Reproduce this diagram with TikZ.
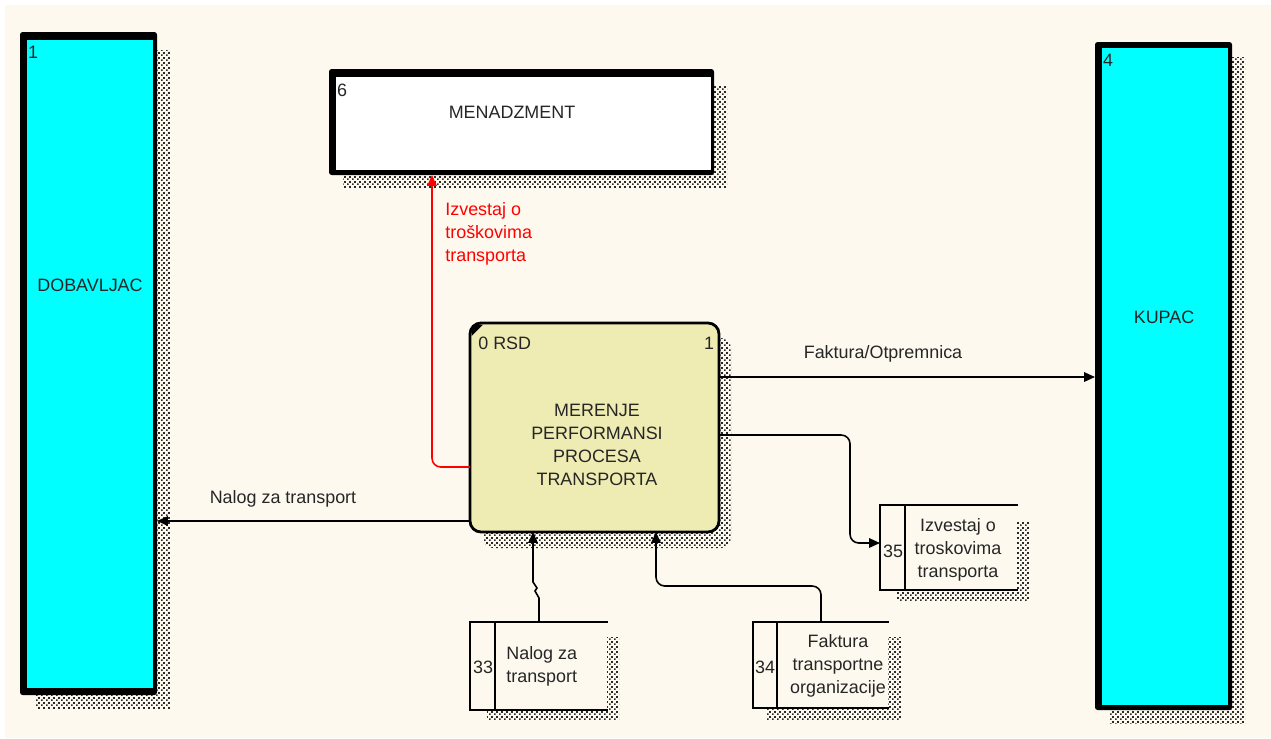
\documentclass[tikz,border=0pt]{standalone}
\usepackage{fontspec}
\setmainfont{Liberation Sans}
\usetikzlibrary{arrows.meta,patterns,fit}

\definecolor{paper}{RGB}{254,249,239}
\definecolor{entcyan}{RGB}{0,255,255}
\definecolor{procfill}{RGB}{238,236,178}
\definecolor{shadowgray}{RGB}{40,40,40}
\definecolor{flowred}{RGB}{255,0,0}

% fine checkerboard of dots used for drop shadows
\pgfdeclarepatternformonly{shadowdots}{\pgfqpoint{0pt}{0pt}}{\pgfqpoint{2.6pt}{2.6pt}}{\pgfqpoint{2.6pt}{2.6pt}}{%
  \pgfpathrectangle{\pgfqpoint{0pt}{0pt}}{\pgfqpoint{1.05pt}{1.05pt}}%
  \pgfpathrectangle{\pgfqpoint{1.3pt}{1.3pt}}{\pgfqpoint{1.05pt}{1.05pt}}%
  \pgfusepath{fill}}

\begin{document}
\begin{tikzpicture}[x=0.02cm, y=-0.02cm,
  font=\fontsize{10.2}{13}\selectfont,
  box/.style={inner sep=0pt, outer sep=0pt},
  txt/.style={inner sep=0pt, text=black!85},
  shade/.style={pattern=shadowdots, pattern color=shadowgray},
  flow/.style={line width=0.9pt, -{Triangle[length=6.2pt,width=5.4pt]}},
  storeline/.style={line width=1.4pt, line cap=rect}]

% canvas
\useasboundingbox (0,0) rectangle (1271,738);
\fill[white] (0,0) rectangle (1271,738);
\fill[paper] (5,5) rectangle (1271,738);

% drop shadows
\fill[shade] (35,50) rectangle (170,708);
\fill[shade] (1110,57) rectangle (1245,723);
\fill[shade] (343,86) rectangle (727,187);
\fill[shade, rounded corners=0.2cm] (483,338) rectangle (731,548);
\fill[shade] (897,522) rectangle (1029,600);
\fill[shade] (487,637) rectangle (619,719);
\fill[shade] (767,637) rectangle (901,719);

% external entity: DOBAVLJAC
\node[box, fit={(20,32) (157,695)}] (dob) {};
\fill[black, rounded corners=1.5pt] (dob.north west) rectangle (dob.south east);
\fill[entcyan] (27,40) rectangle (153,688);
\node[txt] (dobnum) at (33,52) {1};
\node[txt] (dobtxt) at (90,285) {DOBAVLJAC};

% external entity: KUPAC
\node[box, fit={(1095,42) (1232,710)}] (kup) {};
\fill[black, rounded corners=1.5pt] (kup.north west) rectangle (kup.south east);
\fill[entcyan] (1102,48) rectangle (1228,705);
\node[txt] (kupnum) at (1108,60) {4};
\node[txt] (kuptxt) at (1164,317) {KUPAC};

% external entity: MENADZMENT
\node[box, fit={(329,69) (714,175)}] (men) {};
\fill[black, rounded corners=1.5pt] (men.north west) rectangle (men.south east);
\fill[white] (336,77) rectangle (711,170);
\node[txt] (mennum) at (342,90) {6};
\node[txt] (mentxt) at (512,112) {MENADZMENT};

% process
\node[box, fit={(470,323) (719,532)}, draw=black, line width=1.6pt,
      fill=procfill, rounded corners=0.22cm] (proc) {};
\fill[black] (471.5,336) -- (471.5,330) -- (476,325) -- (483,324.5) -- cycle;
\node[txt, anchor=west] (procid) at (478,343) {0 RSD};
\node[txt] (procnum) at (709,343) {1};
\node[txt, align=center] (proctxt) at (597,445) {MERENJE\\PERFORMANSI\\PROCESA\\TRANSPORTA};

% data store 35
\node[box, fit={(880,505) (1017,590)}] (st35) {};
\fill[paper] (st35.north west) rectangle (st35.south east);
\draw[storeline] (st35.north east) -- (st35.north west) -- (st35.south west) -- (st35.south east);
\draw[storeline] (905,505) -- (905,590);
\node[txt] (st35num) at (893,551) {35};
\node[txt, align=center] (st35txt) at (958,550) {Izvestaj o\\troskovima\\transporta};

% data store 33
\node[box, fit={(470,622) (607,710)}] (st33) {};
\fill[paper] (st33.north west) rectangle (st33.south east);
\draw[storeline] (st33.north east) -- (st33.north west) -- (st33.south west) -- (st33.south east);
\draw[storeline] (495,622) -- (495,710);
\node[txt] (st33num) at (483,667) {33};
\node[txt, anchor=west, align=left] (st33txt) at (506,666) {Nalog za\\transport};

% data store 34
\node[box, fit={(753,622) (888,708)}] (st34) {};
\fill[paper] (st34.north west) rectangle (st34.south east);
\draw[storeline] (st34.north east) -- (st34.north west) -- (st34.south west) -- (st34.south east);
\draw[storeline] (777,622) -- (777,708);
\node[txt] (st34num) at (765,667) {34};
\node[txt, align=center] (st34txt) at (838,666) {Faktura\\transportne\\organizacije};

% helper coordinates for connector routing
\coordinate (yF) at (0,377);
\coordinate (xR) at (432,0);
\coordinate (yR) at (0,467);
\coordinate (yN) at (0,521);
\coordinate (x35) at (850,0);
\coordinate (y35a) at (0,435);
\coordinate (y35b) at (0,543);
\coordinate (x33a) at (533,0);
\coordinate (x33b) at (539,0);
\coordinate (x34) at (821,0);
\coordinate (y34) at (0,586);
\coordinate (x34b) at (656,0);

% data flows
\draw[flow] (proc.east |- yF) -- (kup.west |- yF);
\node[txt] (lblF) at (883,354) {Faktura/Otpremnica};

\draw[flow, draw=flowred, rounded corners=5pt] (proc.west |- yR) -| (xR |- men.south);
\node[txt, text=flowred, anchor=west, align=left] (lblR) at (445,234) {Izvestaj o\\troškovima\\transporta};

\draw[flow] (proc.west |- yN) -- (dob.east |- yN);
\node[txt] (lblN) at (283,499) {Nalog za transport};

\draw[flow, rounded corners=5pt] (proc.east |- y35a) -| (x35 |- y35b) -- (st35.west |- y35b);

\draw[flow] (st33.north -| x33b) -- (539,598) -- (535,591) -- (537,588) -- (533,582) -- (proc.south -| x33a);

\draw[flow, rounded corners=5pt] (st34.north -| x34) |- (x34b |- y34) -- (proc.south -| x34b);

\end{tikzpicture}
\end{document}
